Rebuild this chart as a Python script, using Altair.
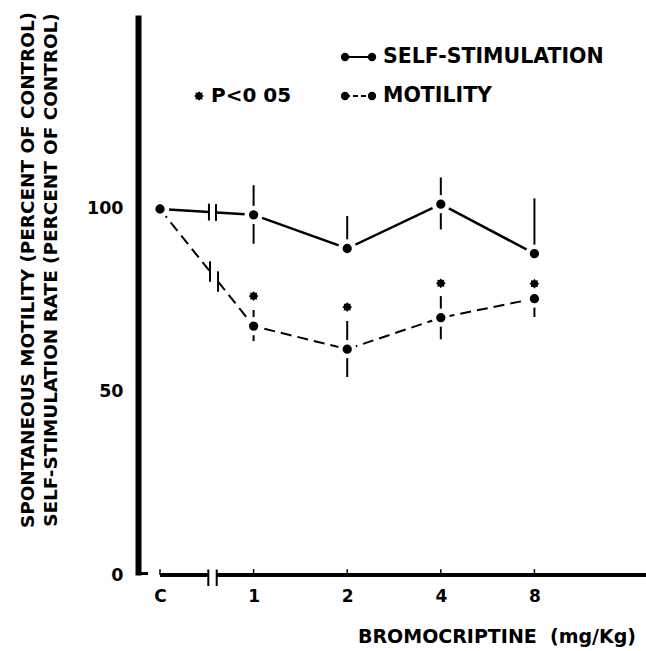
import math
import altair as alt
import pandas as pd

# ---------------- data ----------------
doses = ["C", "1", "2", "4", "8"]
dose_pos = [0, 1, 2, 3, 4]

self_mean = [100, 98.4, 89.2, 101.3, 87.8]
self_upper = [100, 106.5, 98.1, 108.6, 102.9]
self_lower = [100, 90.5, 89.2, 94.4, 87.8]

motil_mean = [100, 68.0, 61.7, 70.3, 75.5]
motil_upper = [100, 72.4, 69.4, 76.2, 75.5]
motil_lower = [100, 63.9, 54.1, 64.4, 70.5]

sig_marker = [None, 76.2, 73.2, 79.7, 79.6]   # * P<0.05 markers

y_ticks = [0, 50, 100]

# axis-break positions (in dose-position units)
self_break = [0.523, 0.598]
motil_break = [0.534, 0.620]
axis_break = [0.516, 0.606]

# ---------------- layout constants ----------------
XMIN, XMAX = -0.235, 5.192
YMIN, YMAX = 0, 153
FONT = "DejaVu Sans"


def X(field="x"):
    return alt.X(f"{field}:Q", scale=alt.Scale(domain=[XMIN, XMAX], nice=False, zero=False),
                 axis=alt.Axis(values=dose_pos, labelExpr=f"{doses}[datum.value]", domain=False,
                               ticks=False, grid=False, title=None, labelFont=FONT,
                               labelFontWeight="bold", labelFontSize=17, labelColor="black",
                               labelPadding=13))


def Y(field="y"):
    return alt.Y(f"{field}:Q", scale=alt.Scale(domain=[YMIN, YMAX], nice=False, zero=False),
                 axis=alt.Axis(values=y_ticks, domain=True, domainColor="black", domainWidth=6,
                               ticks=False, grid=False, title=None, labelFont=FONT,
                               labelFontWeight="bold", labelFontSize=17.5, labelColor="black",
                               labelPadding=15))


def broken_line(means, brk):
    x0, x1 = dose_pos[0], dose_pos[1]
    y0, y1 = means[0], means[1]
    f = lambda x: y0 + (y1 - y0) * (x - x0) / (x1 - x0)
    rows = [dict(seg=0, x=x0, y=y0), dict(seg=0, x=brk[0], y=f(brk[0])),
            dict(seg=1, x=brk[1], y=f(brk[1]))]
    rows += [dict(seg=1, x=x, y=y) for x, y in zip(dose_pos[1:], means[1:])]
    return pd.DataFrame(rows), f


self_line_df, self_f = broken_line(self_mean, self_break)
motil_line_df, motil_f = broken_line(motil_mean, motil_break)

self_breaks_df = pd.DataFrame({"x": self_break,
                               "y": [self_f(b) - 2.3 for b in self_break],
                               "y2": [self_f(b) + 2.3 for b in self_break]})
motil_breaks_df = pd.DataFrame({"x": motil_break,
                                "y": [motil_f(b) - 2.8 for b in motil_break],
                                "y2": [motil_f(b) + 2.8 for b in motil_break]})

pts = pd.DataFrame({"x": dose_pos * 2, "y": self_mean + motil_mean,
                    "lo": self_lower + motil_lower, "hi": self_upper + motil_upper})
err = pts[pts["hi"] > pts["lo"]]

stars = pd.DataFrame({"x": dose_pos, "y": sig_marker}).dropna()

xaxis_df = pd.DataFrame({"x": [dose_pos[0], axis_break[1]], "x2": [axis_break[0], XMAX],
                         "y": [0, 0]})
xbreak_df = pd.DataFrame({"x": axis_break, "y": [-3, -3], "y2": [1.5, 1.5]})
xtick_df = pd.DataFrame({"x": dose_pos, "y": [0] * 5, "y2": [1.6] * 5})
ystub_df = pd.DataFrame({"x": [XMIN], "x2": [-0.128], "y": [0.4]})

star_path = "M" + " L".join(
    f"{(1 if k % 2 == 0 else 0.72) * math.cos(k * math.pi / 8):.3f},"
    f"{(1 if k % 2 == 0 else 0.72) * math.sin(k * math.pi / 8):.3f}" for k in range(16)) + " Z"

one = pd.DataFrame({"k": [0]})

layers = []

# x axis line with break
layers.append(alt.Chart(xaxis_df).mark_rule(color="black", strokeWidth=4)
              .encode(x=X("x"), x2="x2:Q", y=Y("y")))
layers.append(alt.Chart(xbreak_df).mark_rule(color="black", strokeWidth=2)
              .encode(x=X("x"), y=Y("y"), y2="y2:Q"))
layers.append(alt.Chart(xtick_df).mark_rule(color="black", strokeWidth=1.5)
              .encode(x=X("x"), y=Y("y"), y2="y2:Q"))
layers.append(alt.Chart(ystub_df).mark_rule(color="black", strokeWidth=3)
              .encode(x=X("x"), x2="x2:Q", y=Y("y")))

# series lines
layers.append(alt.Chart(self_line_df).mark_line(color="black", strokeWidth=2.5)
              .encode(x=X("x"), y=Y("y"), detail="seg:N"))
layers.append(alt.Chart(motil_line_df).mark_line(color="black", strokeWidth=2, strokeDash=[11, 6])
              .encode(x=X("x"), y=Y("y"), detail="seg:N"))
layers.append(alt.Chart(self_breaks_df).mark_rule(color="black", strokeWidth=2)
              .encode(x=X("x"), y=Y("y"), y2="y2:Q"))
layers.append(alt.Chart(motil_breaks_df).mark_rule(color="black", strokeWidth=2)
              .encode(x=X("x"), y=Y("y"), y2="y2:Q"))

# error bars
layers.append(alt.Chart(err).mark_rule(color="black", strokeWidth=2)
              .encode(x=X("x"), y=Y("lo"), y2="hi:Q"))

# points with white halo (gives the gaps of the original)
layers.append(alt.Chart(pts).mark_point(shape="circle", filled=True, fill="black", stroke="white",
                                        strokeWidth=4.5, size=190, opacity=1)
              .encode(x=X("x"), y=Y("y")))

# significance markers
layers.append(alt.Chart(stars).mark_point(shape=star_path, filled=True, color="black", size=95,
                                          opacity=1)
              .encode(x=X("x"), y=Y("y")))

# ---------------- legend / annotations ----------------
txt = dict(font=FONT, fontWeight="bold", color="black")
layers.append(alt.Chart(one).mark_rule(color="black", strokeWidth=2)
              .encode(x=alt.value(207), x2=alt.value(234), y=alt.value(42)))
layers.append(alt.Chart(one).mark_rule(color="black", strokeWidth=2, strokeDash=[5, 3])
              .encode(x=alt.value(207), x2=alt.value(234), y=alt.value(81)))
layers.append(alt.Chart(pd.DataFrame({"px": [207, 234, 207, 234], "py": [42, 42, 81, 81]}))
              .mark_point(shape="circle", filled=True, color="black", size=70, opacity=1)
              .encode(x=alt.X("px:Q", scale=None), y=alt.Y("py:Q", scale=None)))
layers.append(alt.Chart(one).mark_text(text="SELF-STIMULATION", align="left", baseline="middle",
                                       fontSize=20.5, **txt)
              .encode(x=alt.value(245), y=alt.value(42)))
layers.append(alt.Chart(one).mark_text(text="MOTILITY", align="left", baseline="middle",
                                       fontSize=20.5, **txt)
              .encode(x=alt.value(245), y=alt.value(81)))
layers.append(alt.Chart(one).mark_point(shape=star_path, filled=True, color="black", size=95,
                                        opacity=1)
              .encode(x=alt.value(61), y=alt.value(81)))
layers.append(alt.Chart(one).mark_text(text="P<0 05", align="left", baseline="middle",
                                       fontSize=20, **txt)
              .encode(x=alt.value(73), y=alt.value(81)))

# axis titles
layers.append(alt.Chart(one).mark_text(text="SPONTANEOUS MOTILITY (PERCENT OF CONTROL)", angle=270,
                                       align="center", baseline="middle", fontSize=18.4, **txt)
              .encode(x=alt.value(-110), y=alt.value(255)))
layers.append(alt.Chart(one).mark_text(text="SELF-STIMULATION RATE (PERCENT OF CONTROL)", angle=270,
                                       align="center", baseline="middle", fontSize=18.4, **txt)
              .encode(x=alt.value(-87), y=alt.value(255)))
layers.append(alt.Chart(one).mark_text(text="BROMOCRIPTINE\u00a0\u00a0(mg/Kg)", align="center",
                                       baseline="middle", fontSize=19, **txt)
              .encode(x=alt.value(359), y=alt.value(622)))

chart = alt.layer(*layers).properties(
    width=508, height=560,
    autosize=alt.AutoSizeParams(type="none"),
    padding={"left": 138, "top": 15, "right": 0, "bottom": 76},
    background="white",
).configure_view(stroke=None)

chart.save("out.html", embed_options={"renderer": "svg", "actions": False})
